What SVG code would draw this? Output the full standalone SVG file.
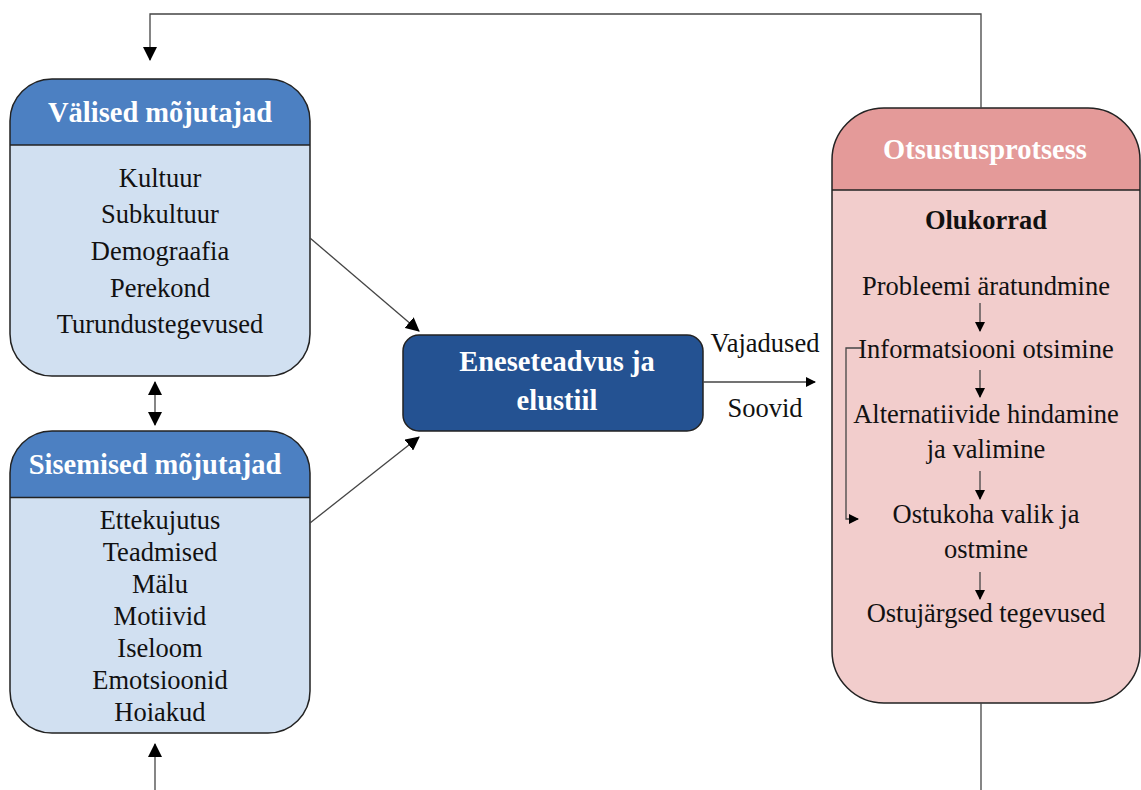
<svg xmlns="http://www.w3.org/2000/svg" width="1141" height="790" viewBox="0 0 1141 790">
<style>
text{font-family:"Liberation Serif","Times New Roman",serif;text-anchor:middle;fill:#111}
.hd{font-weight:bold;fill:#fff;font-size:28.5px}
.it{font-size:26.5px}
.c{stroke:#444;stroke-width:1.3;fill:none}
.box{stroke:#222;stroke-width:1.5}
</style>
<defs>
<marker id="ah" markerWidth="14" markerHeight="14" refX="13" refY="7" orient="auto" markerUnits="userSpaceOnUse">
<path d="M0,0 L14,7 L0,14 z" fill="#000"/>
</marker>
<marker id="ahs" markerWidth="10" markerHeight="10" refX="9" refY="5" orient="auto" markerUnits="userSpaceOnUse">
<path d="M0,0 L10,5 L0,10 z" fill="#000"/>
</marker>
<marker id="ahst" markerWidth="14" markerHeight="14" refX="1" refY="7" orient="auto" markerUnits="userSpaceOnUse">
<path d="M14,0 L0,7 L14,14 z" fill="#000"/>
</marker>
<clipPath id="c1"><rect x="10" y="79" width="300" height="297" rx="42"/></clipPath>
<clipPath id="c2"><rect x="10" y="431" width="300" height="302" rx="42"/></clipPath>
<clipPath id="c3"><rect x="832" y="108" width="308" height="595" rx="52"/></clipPath>
</defs>
<g id="valised">
<g clip-path="url(#c1)">
<rect x="10" y="79" width="300" height="297" fill="#d1e0f1"/>
<rect x="10" y="79" width="300" height="66" fill="#4c80c2"/>
<line x1="10" y1="145" x2="310" y2="145" stroke="#222" stroke-width="1.5"/>
</g>
<rect class="box" x="10" y="79" width="300" height="297" rx="42" fill="none"/>
<text class="hd" x="160" y="122">Välised mõjutajad</text>
<text class="it" x="160" y="187">Kultuur</text>
<text class="it" x="160" y="223">Subkultuur</text>
<text class="it" x="160" y="260">Demograafia</text>
<text class="it" x="160" y="297">Perekond</text>
<text class="it" x="160" y="333">Turundustegevused</text>
</g>
<g id="sisemised">
<g clip-path="url(#c2)">
<rect x="10" y="431" width="300" height="302" fill="#d1e0f1"/>
<rect x="10" y="431" width="300" height="67" fill="#4c80c2"/>
<line x1="10" y1="497.5" x2="310" y2="497.5" stroke="#222" stroke-width="1.5"/>
</g>
<rect class="box" x="10" y="431" width="300" height="302" rx="42" fill="none"/>
<text class="hd" x="155" y="474">Sisemised mõjutajad</text>
<text class="it" x="160" y="529">Ettekujutus</text>
<text class="it" x="160" y="561">Teadmised</text>
<text class="it" x="160" y="593">Mälu</text>
<text class="it" x="160" y="625">Motiivid</text>
<text class="it" x="160" y="657">Iseloom</text>
<text class="it" x="160" y="689">Emotsioonid</text>
<text class="it" x="160" y="721">Hoiakud</text>
</g>
<g id="eneseteadvus">
<rect x="403" y="335" width="300" height="96" rx="16" fill="#245292" stroke="#222" stroke-width="1.5"/>
<text class="hd" x="557" y="371">Eneseteadvus ja</text>
<text class="hd" x="557" y="410">elustiil</text>
</g>
<g id="labels">
<text class="it" x="765" y="352">Vajadused</text>
<text class="it" x="765" y="417">Soovid</text>
</g>
<g id="otsustusprotsess">
<g clip-path="url(#c3)">
<rect x="832" y="108" width="308" height="595" fill="#f2cdcc"/>
<rect x="832" y="108" width="308" height="82" fill="#e49a99"/>
<line x1="832" y1="190" x2="1140" y2="190" stroke="#222" stroke-width="1.5"/>
</g>
<rect class="box" x="832" y="108" width="308" height="595" rx="52" fill="none"/>
<text class="hd" x="985" y="159">Otsustusprotsess</text>
<text x="986" y="229" style="font-weight:bold;font-size:26.5px">Olukorrad</text>
<text class="it" x="986" y="295">Probleemi äratundmine</text>
<text class="it" x="986" y="358">Informatsiooni otsimine</text>
<text class="it" x="986" y="423">Alternatiivide hindamine</text>
<text class="it" x="986" y="458">ja valimine</text>
<text class="it" x="986" y="523">Ostukoha valik ja</text>
<text class="it" x="986" y="558">ostmine</text>
<text class="it" x="986" y="622">Ostujärgsed tegevused</text>
</g>
<g id="connectors">
<path class="c" d="M981,108 V14 H150 V60" marker-end="url(#ah)"/>
<path class="c" d="M981,703 V790"/>
<path class="c" d="M155,382 V425" marker-start="url(#ahst)" marker-end="url(#ah)"/>
<path class="c" d="M155,790 V744" marker-end="url(#ah)"/>
<path class="c" d="M310,238 L419,331" marker-end="url(#ah)"/>
<path class="c" d="M310,523 L419,437" marker-end="url(#ah)"/>
<path class="c" d="M703,382 L815,382" marker-end="url(#ahs)"/>
<path class="c" d="M980,303 V331" marker-end="url(#ahs)"/>
<path class="c" d="M980,370 V397" marker-end="url(#ahs)"/>
<path class="c" d="M980,471 V499" marker-end="url(#ahs)"/>
<path class="c" d="M980,572 V599" marker-end="url(#ahs)"/>
<path class="c" d="M862,348 H846 V519 H858" marker-end="url(#ahs)"/>
</g>
</svg>
